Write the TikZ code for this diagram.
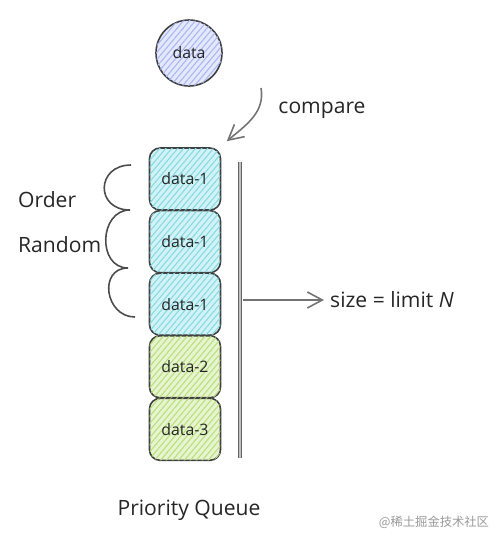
\documentclass[tikz,border=0pt]{standalone}
\usepackage{fontspec}
\setmainfont{Open Sans}
\newfontfamily\cjk{Noto Sans CJK SC}
\usetikzlibrary{arrows.meta,positioning,patterns.meta}
\definecolor{circfill}{HTML}{E4E8FC}
\definecolor{circline}{HTML}{A9B6F2}
\definecolor{cyanfill}{HTML}{D2F3F6}
\definecolor{cyanline}{HTML}{86D9E4}
\definecolor{greenfill}{HTML}{E6F4CF}
\definecolor{greenline}{HTML}{B9DE7C}

\begin{document}
\begin{tikzpicture}[every node/.style={font=\small, text=black!85},
	ink/.style={draw=black!75, line width=0.9pt},
	hatch/.style={postaction={pattern={Lines[angle=50,distance=2.6pt,line width=0.6pt]}, pattern color=#1}},
	databox/.style={ink, rounded corners=6pt, minimum width=1.42cm, minimum height=1.24cm, inner sep=0pt},
	cyanbox/.style={databox, fill=cyanfill, hatch=cyanline},
	greenbox/.style={databox, fill=greenfill, hatch=greenline},
	sketcharrow/.style={draw=black!55, line width=0.9pt, -{Straight Barb[length=3mm, width=3.2mm]}},
	node distance=-0.02cm]
	\useasboundingbox (0,0) rectangle (9.94,-10.9);
	% incoming element
	\node[ink, circle, minimum size=1.32cm, inner sep=0pt, fill=circfill, hatch=circline] (data) at (3.78,-1.06) {data};
	% the queue, top to bottom
	\node[cyanbox] (box1) at (3.7,-3.58) {data-1};
	\node[cyanbox, below=of box1] (box2) {data-1};
	\node[cyanbox, below=of box2] (box3) {data-1};
	\node[greenbox, below=of box3] (box4) {data-2};
	\node[greenbox, below=of box4] (box5) {data-3};
	% compare arrow
	\coordinate (cmpfrom) at (5.22,-1.76);
	\draw[sketcharrow] (cmpfrom) to[out=-80, in=40] ([shift={(0.11,0.12)}]box1.north east);
	\node (compare) at (6.44,-2.2) {\large compare};
	% braces for the equal elements
	\coordinate (br0) at (2.62,-3.3);
	\coordinate (br1) at (2.6,-4.2);
	\coordinate (br2) at (2.56,-5.36);
	\coordinate (br3) at (2.7,-6.34);
	\draw[ink, draw=black!70] (br0) .. controls +(-0.7,0) and +(-0.7,0) .. (br1)
		.. controls +(-0.62,0) and +(-0.62,0) .. (br2)
		.. controls +(-0.6,0) and +(-0.6,0) .. (br3);
	\node[anchor=west, align=left, font=\large, text=black!85] (order) at (0.24,-4.44) {Order\\[0.42cm]Random};
	% queue bound
	\coordinate (qtop) at (4.8,-3.24);
	\coordinate (qbot) at (4.8,-9.16);
	\draw[draw=black!60, double=black!25, double distance=0.8pt, line width=0.6pt] (qtop) -- (qbot);
	\coordinate (sizefrom) at (4.86,-6.0);
	\node[anchor=west, font=\large] (size) at (6.48,-6.0) {size = limit \textit{N}};
	\draw[sketcharrow] (sizefrom) -- (size.west);
	% captions
	\node[font=\large] (title) at (3.78,-10.2) {Priority Queue};
	\node[font=\cjk\scriptsize, text=black!40] (mark) at (8.68,-10.44) {@稀土掘金技术社区};
\end{tikzpicture}
\end{document}
